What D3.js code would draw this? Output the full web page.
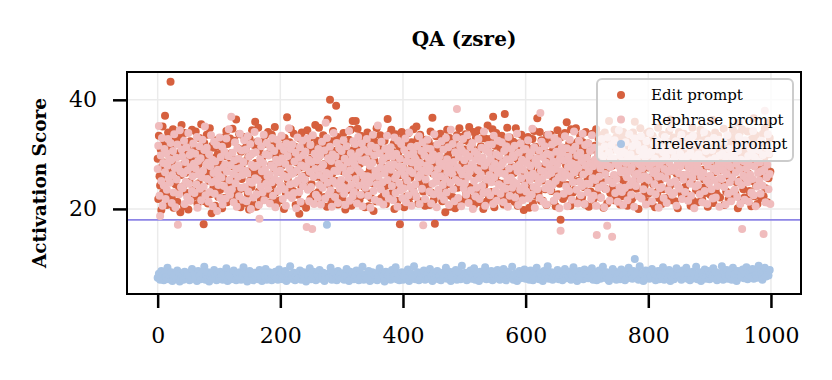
<!DOCTYPE html>
<html>
<head>
<meta charset="utf-8">
<script src="https://cdn.jsdelivr.net/npm/d3@7"></script>
<style>
  body { margin: 0; background: #fff; }
</style>
</head>
<body>
<svg id="chart"></svg>
<script>
const title = "QA (zsre)";
const yLabel = "Activation Score";
const xTicks = [0, 200, 400, 600, 800, 1000];
const yTicks = [20, 40];
const threshold = 18.0;
const seriesNames = ["Edit prompt", "Rephrase prompt", "Irrelevant prompt"];
const seriesColors = ["#d6603e", "#f0bcbd", "#a9c4e4"];

// one score per sample, sample index = position in array
const editScores = [
29.2,21.8,33.4,26.0,24.3,30.9,19.8,27.7,35.1,23.0,28.5,32.2,37.1,25.4,31.5,20.7,27.0,34.0,22.6,29.8,
25.7,43.3,31.0,22.1,28.4,34.6,20.2,26.8,32.7,24.5,32.6,29.5,21.3,27.4,33.3,23.6,30.3,19.4,26.2,35.4,
31.8,24.1,28.1,20.5,33.9,26.6,30.1,22.9,31.4,27.1,19.9,29.3,25.0,32.4,21.6,28.8,34.5,23.4,26.9,30.6,
22.3,29.9,34.2,26.4,31.2,20.9,27.9,24.7,33.0,22.1,28.6,35.5,23.1,30.4,25.8,17.2,32.1,21.4,29.1,26.7,
33.6,27.3,21.0,30.8,25.1,34.8,22.7,28.9,19.2,31.6,26.3,23.9,31.2,29.4,20.6,27.6,32.6,24.4,30.0,22.2,
26.5,31.4,23.5,32.4,28.2,20.1,30.7,25.6,33.1,22.0,29.7,27.0,34.3,21.2,31.9,24.8,21.9,28.3,32.9,25.3,
30.2,22.4,34.7,27.8,23.4,32.5,24.2,29.0,36.4,26.1,21.7,31.1,23.3,33.7,28.0,20.3,30.5,25.5,30.9,27.2,
23.8,33.2,28.7,21.1,31.3,26.9,31.8,22.8,29.6,19.9,32.8,25.2,30.0,24.0,34.4,27.5,20.8,31.7,26.4,36.0,
28.4,20.4,32.3,25.9,34.9,23.2,30.6,27.3,21.5,32.3,29.2,24.6,22.7,31.9,26.0,33.5,22.5,29.9,25.7,32.0,
34.1,26.2,22.8,30.3,21.1,28.1,33.6,24.4,31.5,21.9,27.4,35.0,23.0,29.6,20.9,32.6,26.8,30.8,24.9,28.7,
21.6,31.0,27.9,31.6,24.1,29.8,20.0,33.0,26.3,22.9,30.9,36.8,25.4,28.3,22.6,32.2,23.7,34.6,27.1,30.1,
29.4,23.3,33.8,26.7,31.4,20.7,28.6,30.8,22.6,30.4,25.0,19.1,32.9,27.6,24.2,34.0,21.0,29.0,31.9,26.1,
25.3,32.8,20.2,28.0,34.4,23.8,30.7,26.6,33.0,21.8,29.2,24.5,33.3,27.9,22.4,31.2,22.7,35.4,28.5,25.9,
32.5,27.1,23.1,34.9,29.7,21.3,26.0,31.6,24.8,21.8,33.5,28.2,22.2,30.2,25.6,32.2,20.4,36.4,27.7,31.0,
24.4,40.0,29.3,21.5,32.4,26.5,34.3,22.9,30.6,22.9,27.9,38.9,25.1,33.2,20.8,28.8,31.8,23.5,31.7,27.2,
30.0,22.1,26.9,33.9,24.6,31.3,19.9,28.6,30.5,23.4,29.9,21.2,32.7,25.8,27.5,34.5,20.6,30.7,36.1,26.3,
27.8,32.1,23.6,36.1,29.0,21.9,34.7,25.3,31.1,21.6,28.3,33.4,22.4,30.5,26.2,32.0,24.1,29.6,20.3,32.8,
23.1,29.5,34.0,26.4,20.5,31.7,27.3,31.3,22.0,30.3,24.7,33.1,19.6,28.9,32.3,25.5,21.4,34.8,27.0,30.9,
31.5,25.0,21.7,33.5,28.1,22.0,30.1,26.8,32.7,23.0,32.5,27.4,20.9,29.3,24.3,36.5,22.5,31.0,26.0,33.8,
26.6,34.5,22.9,30.5,25.4,32.0,20.0,28.5,33.7,24.0,29.8,21.5,30.2,27.7,31.4,17.2,26.2,23.8,34.1,29.1,
33.0,27.5,20.3,31.6,24.9,31.9,22.3,29.1,26.4,33.9,21.1,30.3,25.7,22.3,32.2,28.0,23.5,34.6,27.0,30.8,
22.4,30.6,35.1,26.3,32.9,21.0,28.7,24.6,33.6,21.4,29.9,27.3,32.1,23.2,31.2,25.6,20.6,32.7,28.4,24.2,
29.7,24.3,32.3,20.7,27.6,34.2,23.0,30.4,36.7,26.5,21.6,31.5,17.3,28.3,33.3,25.2,22.5,30.9,22.8,31.1,
27.0,33.8,25.8,31.0,21.4,29.2,32.5,23.7,28.0,19.4,32.1,26.1,34.5,22.5,30.0,24.5,33.0,20.4,27.9,31.7,
32.0,22.2,28.9,30.7,25.5,20.1,31.8,27.2,33.5,23.9,29.5,21.1,34.8,26.0,30.6,33.2,24.2,28.4,21.7,32.6,
25.1,30.9,33.7,22.7,28.3,22.8,32.4,26.9,35.0,24.0,29.9,21.8,31.4,27.6,23.6,34.1,20.7,30.2,26.5,33.1,
30.3,23.4,27.5,34.4,21.2,31.0,25.9,31.5,22.8,29.4,33.0,20.0,28.1,24.4,32.9,26.9,21.3,30.8,35.3,27.8,
21.9,28.5,32.8,25.3,30.1,23.1,34.6,36.9,27.3,20.3,31.6,26.0,33.9,22.3,29.5,24.8,32.3,28.1,22.2,31.0,
28.8,33.4,24.6,30.7,20.8,27.0,37.4,22.6,32.2,26.3,34.9,21.7,29.6,25.0,33.1,22.0,30.4,27.7,23.4,31.2,
32.3,26.6,21.3,29.3,34.8,24.2,31.3,20.6,28.0,32.0,23.0,30.6,27.1,33.6,22.0,29.8,25.4,19.8,32.5,26.2,
24.8,31.9,28.6,22.6,33.2,26.0,20.2,30.0,31.0,27.4,23.8,32.8,21.0,29.2,34.3,25.7,31.4,22.4,28.2,36.6,
30.7,22.9,26.8,34.1,29.7,21.5,32.6,25.2,21.5,31.1,27.8,32.4,23.6,29.0,20.7,33.5,26.5,30.2,24.3,32.1,
27.6,33.6,23.3,30.4,25.8,30.9,21.4,28.3,32.5,20.5,29.7,26.7,34.4,22.7,31.0,24.6,28.9,18.0,33.2,25.5,
31.2,21.8,29.1,26.3,33.9,22.6,28.0,35.9,24.4,30.9,22.4,32.0,27.2,20.6,34.6,25.9,29.5,23.0,31.8,26.6,
23.5,30.2,34.8,27.9,21.1,32.3,25.1,29.0,21.8,33.4,26.6,31.5,22.1,32.2,28.4,24.0,30.5,20.8,34.1,27.3,
29.8,25.4,32.0,20.4,27.5,31.3,23.2,30.8,26.2,33.8,21.7,28.6,24.7,31.6,22.7,34.6,27.0,22.6,30.1,32.9,
26.4,33.5,22.1,29.4,31.9,24.9,31.2,20.2,28.2,34.0,23.7,30.5,27.4,21.0,32.4,25.3,36.1,29.1,22.9,31.6,
32.6,27.9,24.1,30.9,21.6,34.5,26.1,22.1,33.2,28.8,23.0,31.8,25.6,30.6,20.8,29.4,27.0,32.9,22.3,34.1,
25.0,31.3,28.3,22.5,32.6,26.9,20.6,32.2,29.6,23.8,33.7,21.2,30.3,27.7,21.9,34.0,24.6,31.0,36.0,26.3,
30.5,23.7,33.0,27.1,20.0,31.5,25.5,34.8,22.2,29.0,32.7,26.4,22.4,30.9,24.3,31.5,28.0,21.3,33.9,27.6,
22.8,29.6,34.2,25.7,31.8,21.0,28.7,33.4,24.5,32.8,27.3,20.3,32.5,26.0,30.2,23.1,34.9,22.0,29.3,25.2,
31.9,26.8,20.9,33.6,28.1,23.6,30.6,31.2,22.0,29.2,25.9,32.3,21.6,27.6,34.3,24.2,36.4,21.6,30.0,27.0,
27.4,33.1,24.7,29.8,21.4,32.1,26.5,31.0,20.1,28.4,34.1,23.3,30.9,25.8,32.7,22.4,29.1,22.2,33.8,26.2,
24.0,30.7,31.8,27.9,22.7,32.0,25.3,29.3,33.4,20.6,28.2,24.9,34.9,21.5,31.4,26.8,30.6,30.1,23.4,28.7,
33.3,26.0,21.2,31.1,28.8,34.5,23.9,30.4,21.7,27.2,32.6,25.4,32.4,22.9,29.6,24.1,33.7,20.4,31.5,27.8,
28.0,22.6,32.9,25.6,30.3,36.3,21.1,29.4,26.7,34.0,23.5,31.6,22.6,28.5,33.4,24.8,30.8,22.1,27.1,31.4,
31.3,24.5,29.0,34.7,20.7,27.6,32.4,23.2,32.0,26.2,30.1,21.8,33.3,25.7,28.9,21.9,31.9,27.0,34.5,22.5,
26.9,33.2,22.8,30.0,24.9,31.8,20.1,35.8,28.2,33.9,25.3,29.5,21.5,34.6,27.4,23.6,32.1,22.1,30.6,31.6,
29.1,21.7,34.2,26.5,31.4,23.3,28.6,32.5,20.5,32.8,25.1,30.2,36.6,22.3,27.8,33.5,24.2,29.9,20.9,31.2,
24.7,32.5,28.3,31.1,22.0,30.6,26.1,33.8,22.3,29.3,34.7,23.8,31.7,27.5,21.2,35.9,25.6,30.0,33.0,26.8
];

const rephraseScores = [
27.3,31.6,35.2,22.4,18.7,29.8,25.1,33.0,20.6,28.4,24.3,31.0,26.7,21.8,30.2,23.5,27.9,32.8,25.6,29.1,
24.8,32.1,28.9,21.1,26.2,30.6,23.0,33.7,27.5,20.3,29.4,25.4,31.8,17.1,28.0,22.7,34.4,26.9,24.0,30.9,
29.6,23.8,26.5,32.5,20.9,28.6,25.0,31.3,22.2,27.1,33.9,24.6,29.9,21.5,27.7,30.4,23.3,26.0,32.0,28.3,
22.9,30.1,27.4,24.5,33.2,20.2,28.8,26.3,31.5,23.7,29.3,21.6,25.8,32.7,27.0,24.1,30.8,35.1,22.5,28.1,
31.2,25.5,28.5,21.3,30.0,23.1,27.8,33.5,24.9,29.0,20.5,26.6,32.3,22.8,28.7,25.2,31.7,19.6,27.2,24.4,
26.1,33.1,22.0,29.5,25.7,31.4,20.8,27.6,24.2,30.5,28.2,21.9,32.9,26.8,23.4,29.7,34.6,25.3,22.6,28.0,
36.9,23.6,30.3,26.4,21.2,28.9,32.2,24.7,27.3,20.4,31.1,25.9,29.2,22.3,33.8,27.5,23.9,30.7,26.2,21.7,
28.6,32.6,24.0,27.0,30.9,21.4,26.5,33.3,23.2,29.6,25.0,31.9,20.0,28.1,24.8,30.2,22.1,27.7,34.1,25.6,
30.4,22.7,27.9,25.3,32.4,20.7,18.2,29.1,24.1,31.5,26.9,23.0,28.4,33.6,21.6,27.2,30.0,24.6,32.1,26.0,
23.7,29.8,26.3,21.0,31.2,28.0,24.9,33.0,22.4,27.6,30.6,25.5,20.3,29.0,26.7,32.7,23.3,28.5,25.1,31.6,
27.0,24.3,33.4,29.3,21.8,26.1,30.8,23.6,28.3,20.6,32.0,25.8,29.7,22.5,34.8,27.4,24.5,31.0,26.4,22.0,
31.8,26.6,22.9,28.7,24.7,30.3,20.1,27.1,33.1,25.2,29.4,23.1,31.3,21.3,28.0,26.0,32.5,24.2,29.9,27.7,
25.4,30.5,27.8,16.7,32.9,23.5,29.0,21.4,26.8,31.7,24.0,28.6,16.3,33.5,25.9,20.9,30.1,27.3,22.6,29.5,
28.9,22.1,31.0,26.2,24.4,29.8,20.8,27.5,32.3,23.9,28.1,25.6,30.7,21.9,35.8,26.6,33.0,24.8,29.3,22.7,
26.3,31.4,23.4,28.8,20.4,30.0,25.1,33.9,27.0,22.2,29.6,24.6,32.1,26.9,21.1,28.3,31.1,23.7,27.8,25.3,
30.6,24.1,27.6,32.6,22.8,29.2,20.7,26.5,31.5,23.8,28.5,25.7,34.3,21.5,27.1,30.2,24.4,29.0,22.3,32.4,
23.1,28.2,31.9,25.5,29.5,21.0,27.3,33.2,24.3,30.4,26.7,22.6,28.9,32.0,20.5,26.1,30.9,25.0,28.6,23.9,
29.1,32.8,26.0,22.4,30.5,24.8,27.9,20.2,31.6,25.8,28.4,33.6,23.3,29.8,21.7,27.0,31.2,24.5,26.4,35.3,
25.9,21.3,30.2,27.6,23.6,32.3,28.8,24.9,20.8,29.3,26.5,31.0,22.8,27.4,33.4,25.3,29.7,21.9,28.1,30.7,
31.3,27.2,24.2,29.6,21.6,28.2,33.1,25.6,22.9,30.1,26.3,20.4,32.5,27.8,24.7,29.2,23.4,31.9,26.9,22.0,
27.5,23.8,30.8,26.1,32.9,21.2,28.7,25.2,29.9,22.5,34.0,27.0,24.0,31.4,20.6,28.5,26.6,30.3,23.1,29.4,
24.5,29.0,22.2,31.5,27.7,25.8,33.3,20.9,28.4,26.4,30.6,23.7,32.2,17.0,27.1,29.8,21.8,25.4,31.1,28.0,
32.7,26.8,29.3,23.2,27.5,31.0,21.0,28.9,24.6,30.0,22.7,33.7,26.2,29.6,25.0,20.3,31.8,27.3,23.5,28.6,
29.7,22.4,26.0,32.4,28.3,24.4,30.9,21.7,27.8,25.5,33.0,23.0,29.1,26.7,31.3,20.7,28.0,24.8,34.5,27.2,
26.5,31.9,23.6,28.6,21.4,30.4,25.3,33.1,38.3,27.6,22.0,29.5,24.9,31.6,27.0,20.5,30.7,26.3,32.8,23.8,
28.9,24.7,30.2,22.6,27.4,33.5,25.9,21.1,29.6,26.8,31.4,23.4,28.2,32.1,20.0,27.7,25.1,30.5,22.3,29.0,
23.9,30.0,27.1,32.8,25.6,21.8,28.8,26.3,31.2,24.2,29.4,22.9,34.2,27.9,20.6,30.8,25.4,28.5,23.1,31.7,
30.4,26.2,22.5,29.2,24.9,31.8,27.5,20.9,33.4,25.8,28.3,23.3,30.0,21.5,27.0,32.5,24.5,29.7,26.6,22.8,
27.9,32.2,24.1,28.5,21.2,30.6,26.4,23.7,31.5,29.1,25.2,20.4,33.2,27.4,22.4,28.9,25.7,31.0,23.9,29.8,
25.0,29.5,31.6,22.1,27.7,24.6,33.8,26.9,20.7,30.3,28.1,23.5,32.0,25.6,29.0,21.6,27.2,30.9,24.3,28.6,
31.0,23.2,28.4,26.1,32.6,21.9,29.7,25.3,27.8,30.4,22.6,34.7,26.5,24.0,31.3,20.2,28.8,25.9,29.3,23.6,
28.1,24.8,30.7,22.0,37.6,27.0,32.3,25.5,29.5,21.3,26.8,31.5,23.8,28.5,20.8,30.1,26.2,33.6,24.6,27.6,
23.4,29.9,26.6,31.8,24.4,28.7,21.5,33.0,27.3,25.1,30.5,22.3,28.2,32.4,25.8,20.1,29.3,16.0,26.9,31.2,
30.2,25.7,22.8,28.9,33.3,26.4,24.1,31.1,20.5,27.7,29.6,23.3,32.7,26.0,28.4,21.7,30.8,24.9,27.2,34.2,
26.7,31.4,28.1,23.5,29.8,21.0,27.5,32.5,25.0,30.3,22.5,28.8,24.2,33.8,26.3,29.3,20.9,31.7,27.9,24.6,
29.4,23.0,32.0,26.9,24.6,30.6,28.3,21.8,33.5,25.6,27.8,22.4,31.2,29.0,25.3,20.6,15.2,28.5,30.0,23.9,
25.9,30.9,27.4,22.1,32.8,28.6,24.3,29.7,20.3,31.5,26.4,23.6,28.0,16.9,33.1,25.2,30.4,21.5,27.7,29.2,
31.7,14.9,24.7,29.3,26.2,32.6,22.9,28.3,25.5,30.8,21.3,27.9,34.4,24.0,29.8,26.7,31.1,23.1,28.7,20.7,
27.1,30.3,23.9,32.2,28.4,25.8,21.6,29.5,26.9,33.7,24.4,30.0,22.6,27.6,31.5,25.1,28.8,20.4,32.9,26.3,
24.2,29.1,31.8,26.5,22.3,28.2,30.7,25.4,33.3,21.9,27.4,29.9,23.6,31.0,26.0,28.6,20.8,32.4,25.7,30.2,
29.9,25.3,27.7,33.9,23.2,30.5,21.4,28.4,26.6,31.9,24.5,29.2,22.7,27.1,32.6,25.9,30.9,20.2,28.1,23.8,
26.0,31.2,24.0,28.8,30.4,22.0,27.3,33.2,25.6,29.6,21.1,32.1,26.8,23.4,28.5,30.8,24.8,34.9,27.5,22.6,
30.6,27.0,22.9,29.4,25.1,32.4,20.6,28.0,24.3,31.3,26.5,23.7,30.1,27.8,33.6,21.8,29.0,25.4,31.7,26.2,
23.1,28.6,31.5,26.3,29.7,21.5,27.6,32.9,24.6,30.3,22.4,28.2,25.7,33.4,27.0,20.1,29.5,24.1,31.9,26.8,
28.3,24.4,30.0,27.2,22.7,32.0,25.9,29.1,21.2,31.6,26.6,34.1,23.3,28.7,30.6,25.2,20.9,27.9,32.5,24.7,
31.4,26.1,28.9,23.6,30.8,21.9,27.4,33.0,25.3,29.3,22.1,31.8,26.9,24.2,28.1,32.7,20.4,29.8,25.6,27.5,
25.5,30.1,27.1,32.3,24.0,28.5,20.8,29.6,26.4,33.5,22.8,28.0,31.0,24.9,27.7,21.4,30.5,25.8,29.2,23.2,
29.5,23.5,31.3,26.7,28.3,22.2,30.6,25.0,33.2,27.3,20.9,29.0,24.4,16.3,31.9,26.1,28.7,21.7,32.6,25.7,
27.4,32.1,24.9,29.7,21.3,28.0,26.3,31.0,23.0,30.3,25.5,34.3,22.5,27.8,29.4,20.5,31.6,24.1,28.8,26.6,
30.8,25.2,28.5,22.8,32.5,26.9,24.3,29.9,15.4,27.2,38.0,21.2,31.3,25.8,28.1,33.7,23.6,30.2,26.4,20.9
];

// irrelevant prompt, one value for every second sample
const irrelevantStep = 2;
const irrelevantScores = [
7.4,8.1,7.0,8.6,7.7,6.9,8.3,7.5,9.2,7.1,7.9,8.4,6.8,7.6,8.0,7.2,8.7,7.3,6.7,8.2,7.8,7.0,8.5,7.4,7.9,
8.3,6.9,7.6,9.0,7.2,8.0,7.5,6.8,8.6,7.7,7.1,8.2,7.4,9.4,7.0,7.8,8.4,6.7,7.5,8.1,7.3,8.8,7.6,6.9,8.0,
7.2,8.5,7.7,7.0,8.2,7.4,9.1,6.8,7.9,8.3,7.1,7.6,8.7,7.3,6.9,8.0,7.5,8.4,7.0,7.8,9.3,7.2,8.1,6.7,7.6,
8.6,7.3,7.9,6.9,8.3,7.5,8.0,7.1,8.8,7.4,6.8,8.2,7.7,9.0,7.0,7.6,8.4,7.2,6.9,8.1,7.8,8.5,7.3,7.0,8.9,
7.5,8.2,7.1,7.8,8.6,6.8,7.4,8.0,9.5,7.2,7.7,8.3,6.9,7.6,8.1,7.3,8.7,7.0,7.9,8.4,7.5,6.7,8.2,7.8,9.1,
7.1,7.6,8.5,7.3,6.9,8.0,7.7,8.8,7.2,7.5,8.3,6.8,7.9,17.1,8.1,7.4,9.2,7.0,7.7,8.4,7.2,6.9,8.6,7.5,8.0,
7.3,8.2,7.0,7.8,9.0,7.4,6.8,8.5,7.6,8.1,7.1,7.9,8.7,7.2,6.9,8.3,7.5,9.4,7.0,7.7,8.0,7.3,8.6,6.8,7.6,
8.4,7.1,7.9,8.2,6.9,7.5,9.1,7.3,8.0,7.7,6.7,8.5,7.2,7.8,8.3,7.0,8.8,7.4,7.6,9.3,7.1,8.1,6.9,7.9,8.4,
7.0,7.7,8.3,7.2,8.9,6.8,7.6,8.1,7.4,9.5,7.1,7.9,8.4,6.9,7.5,8.2,7.3,8.7,7.0,7.8,8.0,7.2,9.0,7.6,6.8,
8.2,7.4,7.9,8.6,7.1,7.7,6.9,8.3,7.5,8.0,9.2,7.2,7.8,8.5,6.8,7.3,8.1,7.6,8.8,7.0,7.9,8.4,7.1,9.6,7.5,
7.7,8.3,6.9,8.0,7.4,8.7,7.2,7.8,9.1,7.0,8.2,7.5,6.8,8.5,7.6,8.0,7.3,9.3,7.1,7.9,8.4,7.2,8.6,6.9,7.7,
8.1,7.3,8.8,7.5,7.0,8.3,7.8,9.0,7.2,6.9,8.5,7.6,8.1,7.4,9.4,7.0,7.9,8.2,6.8,7.7,8.6,7.3,8.0,7.5,8.9,
7.2,7.9,8.4,7.0,8.7,7.6,6.9,8.1,7.4,9.2,7.8,7.1,8.3,7.5,6.8,8.6,7.7,8.0,9.5,7.2,7.9,8.4,7.0,7.6,8.2,
7.4,8.8,7.1,7.8,8.3,6.9,7.6,9.0,7.3,8.1,7.7,8.5,7.0,7.9,9.3,7.2,8.2,6.8,7.5,8.6,7.4,8.0,7.1,8.9,7.7,
8.0,7.3,8.6,7.6,9.1,7.0,7.8,8.3,6.9,7.5,8.7,7.2,8.0,9.4,7.4,7.9,8.4,7.1,6.8,8.2,7.6,9.0,7.3,8.5,7.0,
7.8,8.2,7.1,8.9,7.5,7.9,6.9,8.4,7.3,9.2,7.7,8.0,7.2,8.6,10.8,7.6,8.3,7.0,9.5,7.4,8.1,6.8,7.9,8.7,7.3,
8.5,7.2,7.7,9.0,7.4,8.1,6.9,7.8,8.6,7.1,8.3,7.5,9.3,7.0,7.9,8.2,7.3,8.8,6.8,7.6,8.4,7.1,8.0,9.1,7.5,
7.9,8.3,7.0,8.7,7.4,7.8,9.2,7.2,8.1,6.9,7.6,8.5,7.3,8.0,9.4,7.1,7.7,8.4,6.8,8.2,7.5,8.9,7.2,7.9,8.6,
7.1,8.0,7.6,9.1,7.3,8.4,6.9,7.8,8.2,7.4,9.5,7.0,8.3,7.7,8.8,7.2,7.9,8.5,7.0,9.2,7.5,8.1,6.8,8.6,7.4,
8.2,7.6,8.9,7.3,8.0,9.3,7.1,7.8,8.4,7.5,9.0,7.2,8.7,7.9,7.4,9.6,7.7,8.3,7.0,8.5,9.2,7.6,8.1,7.8,8.8
];

const width = 832, height = 380;
const plotLeft = 127, plotRight = 801, plotTop = 72, plotBottom = 294;
const font = "'DejaVu Serif', serif";

const svg = d3.select("#chart")
    .attr("width", width)
    .attr("height", height)
    .attr("font-family", font);

const x = d3.scaleLinear().domain([-50, 1049]).range([plotLeft, plotRight]);
const y = d3.scaleLinear().domain([4.4, 45.1]).range([plotBottom, plotTop]);

// grid
svg.append("g").selectAll("line")
    .data(xTicks).join("line")
    .attr("x1", d => x(d)).attr("x2", d => x(d))
    .attr("y1", plotTop).attr("y2", plotBottom)
    .attr("stroke", "#ebebeb").attr("stroke-width", 1.5);
svg.append("g").selectAll("line")
    .data(yTicks).join("line")
    .attr("x1", plotLeft).attr("x2", plotRight)
    .attr("y1", d => y(d)).attr("y2", d => y(d))
    .attr("stroke", "#ebebeb").attr("stroke-width", 1.5);

// threshold line
svg.append("line")
    .attr("x1", plotLeft).attr("x2", plotRight)
    .attr("y1", y(threshold)).attr("y2", y(threshold))
    .attr("stroke", "#8d85e6").attr("stroke-width", 1.8);

// points
const series = [
    editScores.map((v, i) => ({ i: i, v: v })),
    rephraseScores.map((v, i) => ({ i: i, v: v })),
    irrelevantScores.map((v, i) => ({ i: i * irrelevantStep, v: v }))
];
series.forEach(function(data, s) {
    svg.append("g").selectAll("circle")
        .data(data).join("circle")
        .attr("cx", d => x(d.i))
        .attr("cy", d => y(d.v))
        .attr("r", 4)
        .attr("fill", seriesColors[s]);
});

// axes
const xAxis = svg.append("g")
    .attr("transform", "translate(0," + plotBottom + ")")
    .call(d3.axisBottom(x).tickValues(xTicks).tickFormat(d3.format("d")).tickSize(14).tickPadding(19));
const yAxis = svg.append("g")
    .attr("transform", "translate(" + plotLeft + ",0)")
    .call(d3.axisLeft(y).tickValues(yTicks).tickFormat(d3.format("d")).tickSize(14).tickPadding(16));
[xAxis, yAxis].forEach(function(g) {
    g.select(".domain").remove();
    g.selectAll(".tick line").attr("stroke", "#000").attr("stroke-width", 2.5);
    g.selectAll(".tick text")
        .attr("fill", "#000")
        .attr("font-family", font)
        .attr("font-size", 22);
});

// frame
svg.append("rect")
    .attr("x", plotLeft).attr("y", plotTop)
    .attr("width", plotRight - plotLeft).attr("height", plotBottom - plotTop)
    .attr("fill", "none").attr("stroke", "#000").attr("stroke-width", 2);

// title + y label
svg.append("text")
    .attr("x", (plotLeft + plotRight) / 2).attr("y", 46)
    .attr("text-anchor", "middle")
    .attr("font-weight", "bold").attr("font-size", 20)
    .text(title);
svg.append("text")
    .attr("transform", "translate(46," + (plotTop + plotBottom) / 2 + ") rotate(-90)")
    .attr("text-anchor", "middle")
    .attr("font-weight", "bold").attr("font-size", 18.5)
    .text(yLabel);

// legend
const legend = svg.append("g");
legend.append("rect")
    .attr("x", 597).attr("y", 79)
    .attr("width", 196).attr("height", 82)
    .attr("rx", 5)
    .attr("fill", "#fff").attr("fill-opacity", 0.8)
    .attr("stroke", "#cccccc").attr("stroke-width", 2);
seriesNames.forEach(function(name, k) {
    const ly = 95 + k * 24.5;
    legend.append("circle")
        .attr("cx", 621).attr("cy", ly).attr("r", 4)
        .attr("fill", seriesColors[k]);
    legend.append("text")
        .attr("x", 651).attr("y", ly).attr("dy", "0.35em")
        .attr("font-size", 15)
        .text(name);
});
</script>
</body>
</html>
